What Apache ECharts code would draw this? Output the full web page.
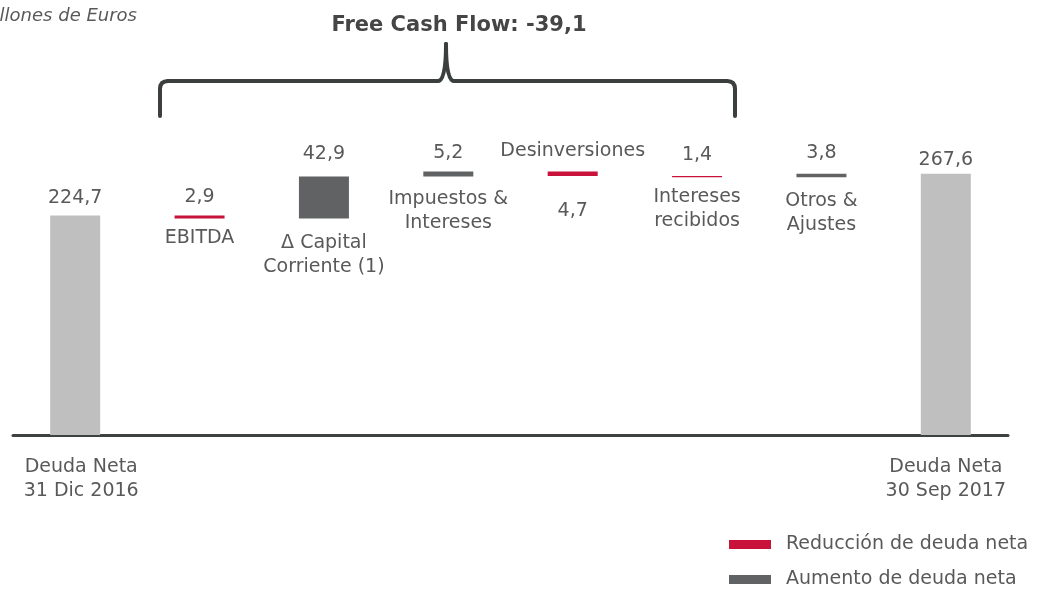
<!DOCTYPE html>
<html>
<head>
<meta charset="utf-8">
<script src="https://cdn.jsdelivr.net/npm/echarts@6/dist/echarts.min.js"></script>
<style>
  html, body { margin: 0; padding: 0; background: #fff; }
  #chart { width: 1042px; height: 594px; }
</style>
</head>
<body>
<div id="chart"></div>
<script>
// datos (millones de euros)
var categorias = ['Deuda Neta\n31 Dic 2016', 'EBITDA', 'Δ Capital\nCorriente (1)', 'Impuestos &\nIntereses',
    'Desinversiones', 'Intereses\nrecibidos', 'Otros &\nAjustes', 'Deuda Neta\n30 Sep 2017'];
var deudaInicial = 224.7;
var variaciones = [-2.9, 42.9, 5.2, -4.7, -1.4, 3.8];
var deudaFinal = 267.6;

// separacion de las etiquetas (px)
var gapValor = [5, 6, 10, 6, 8, 9, 9, 2];
var gapNombre = [0, 8, 13, 11, 23, 8, 12, 0];

var ROJO = '#c8123a', GRIS = '#616263', CLARO = '#bfbfbf', TEXTO = '#595959';
var FUENTE = 'DejaVu Sans';

function fmt(v) { return Math.abs(v).toFixed(1).replace('.', ','); }

window.addEventListener('load', function() {
    var myChart = echarts.init(document.getElementById('chart'));

    // base invisible + tramos visibles
    var base = [0], reduccion = ['-'], aumento = ['-'], totales = [deudaInicial];
    var acum = deudaInicial;
    variaciones.forEach(function(d) {
        var nuevo = acum + d;
        base.push(Math.round(Math.min(acum, nuevo) * 10) / 10);
        reduccion.push(d < 0 ? -d : '-');
        aumento.push(d > 0 ? d : '-');
        totales.push('-');
        acum = nuevo;
    });
    base.push(0); reduccion.push('-'); aumento.push('-'); totales.push(deudaFinal);

    // etiqueta encima: valor (o nombre en Desinversiones)
    function arriba(arr) {
        return arr.map(function(v, i) {
            if (v === '-') return v;
            var txt = i === 4 ? categorias[i] : fmt(v);
            return { value: v, label: { show: true, position: 'top', distance: gapValor[i], formatter: txt } };
        });
    }
    // etiqueta debajo (sobre la base): nombre (o valor en Desinversiones)
    var baseData = base.map(function(v, i) {
        if (i === 0 || i === categorias.length - 1) return v;
        var txt = i === 4 ? fmt(variaciones[i - 1]) : categorias[i];
        return { value: v, label: { show: true, position: 'insideTop', distance: gapNombre[i], formatter: txt } };
    });

    var etiqueta = { color: TEXTO, fontFamily: FUENTE, fontSize: 19, lineHeight: 24 };

    // llave del free cash flow
    var trazo = { stroke: '#3b403f', lineWidth: 4, fill: 'none', lineCap: 'round' };
    function linea(x1, y1, x2, y2) {
        return { type: 'line', shape: { x1: x1, y1: y1, x2: x2, y2: y2 }, style: trazo };
    }
    function curva(x1, y1, cx, cy, x2, y2) {
        return { type: 'bezierCurve', shape: { x1: x1, y1: y1, cpx1: cx, cpy1: cy, x2: x2, y2: y2 }, style: trazo };
    }
    var llave = [
        linea(160, 116, 160, 89), curva(160, 89, 160, 81, 168, 81),
        linea(168, 81, 438, 81), curva(438, 81, 446, 81, 446, 44),
        curva(446, 44, 446, 81, 454, 81), linea(454, 81, 727, 81),
        curva(727, 81, 735, 81, 735, 89), linea(735, 89, 735, 116)
    ];

    var ejeX = categorias.map(function(c, i) {
        return i === 0 ? { value: c, textStyle: { padding: [0, 0, 0, 12] } } : c;
    });

    var option = {
        animation: false,
        textStyle: { fontFamily: FUENTE },
        title: {
            text: 'Free Cash Flow: -39,1',
            left: 454,
            top: 10,
            textAlign: 'center',
            textStyle: { color: '#454545', fontFamily: FUENTE, fontSize: 21, fontWeight: 'bold' }
        },
        legend: {
            orient: 'vertical',
            left: 724,
            top: 530,
            itemWidth: 42,
            itemHeight: 9,
            itemGap: 16,
            icon: 'rect',
            textStyle: { color: TEXTO, fontFamily: FUENTE, fontSize: 19, padding: [0, 0, 0, 10] },
            data: ['Reducción de deuda neta', 'Aumento de deuda neta']
        },
        grid: { left: 13, right: 34, top: 142, bottom: 159 },
        xAxis: {
            type: 'category',
            data: ejeX,
            axisLine: { lineStyle: { color: '#3d4241', width: 3 } },
            axisTick: { show: false },
            axisLabel: {
                interval: 0,
                margin: 20,
                color: TEXTO,
                fontFamily: FUENTE,
                fontSize: 19,
                lineHeight: 24,
                formatter: function(v, i) { return (i === 0 || i === categorias.length - 1) ? v : ''; }
            }
        },
        yAxis: { type: 'value', min: 0, max: 300, show: false, splitLine: { show: false } },
        graphic: [
            {
                type: 'text', x: 137, y: 16,
                style: { text: 'Millones de Euros', align: 'right', verticalAlign: 'middle',
                    fill: TEXTO, font: 'italic 18px "DejaVu Sans"' }
            }
        ].concat(llave),
        series: [
            {
                name: 'base', type: 'bar', stack: 'w', barWidth: 50,
                itemStyle: { color: 'transparent' },
                label: etiqueta,
                data: baseData
            },
            {
                name: 'Reducción de deuda neta', type: 'bar', stack: 'w', barWidth: 50,
                itemStyle: { color: ROJO }, label: etiqueta,
                data: arriba(reduccion)
            },
            {
                name: 'Aumento de deuda neta', type: 'bar', stack: 'w', barWidth: 50,
                itemStyle: { color: GRIS }, label: etiqueta,
                data: arriba(aumento)
            },
            {
                name: 'Deuda neta', type: 'bar', stack: 'w', barWidth: 50,
                itemStyle: { color: CLARO }, label: etiqueta,
                data: arriba(totales)
            }
        ]
    };

    myChart.setOption(option);
});
</script>
</body>
</html>
